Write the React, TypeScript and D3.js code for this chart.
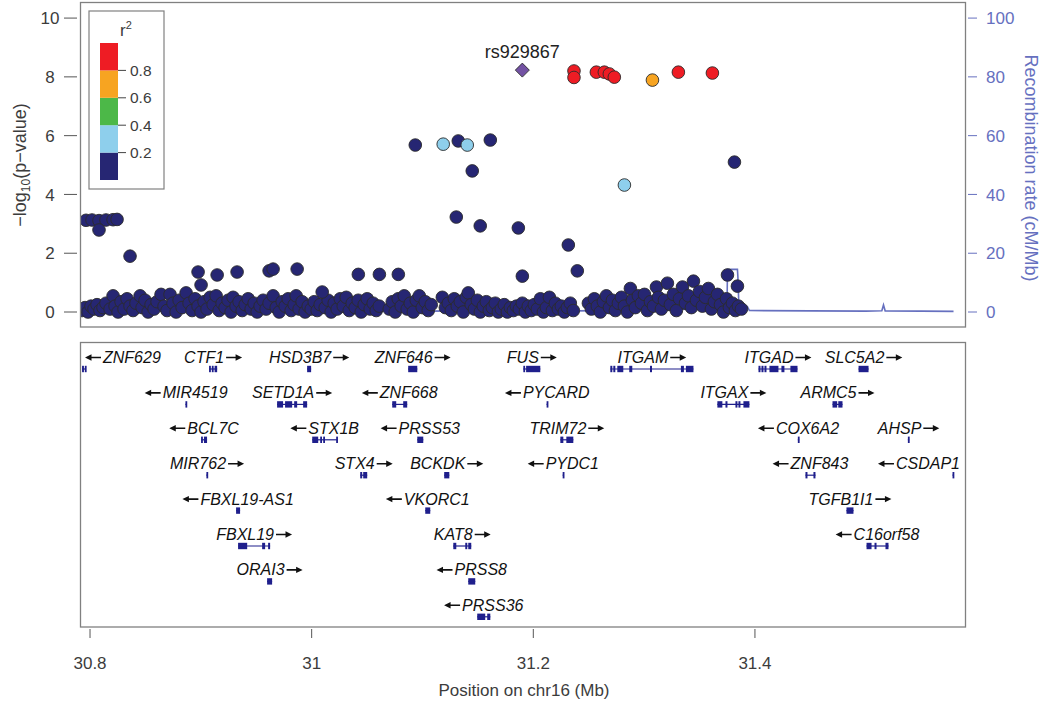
import React, { useMemo } from 'react';
import * as d3 from 'd3';

// ---------- data ----------
const xTicks = [30.8, 31, 31.2, 31.4];
const xTickLabels = ['30.8', '31', '31.2', '31.4'];
const yTicks = [0, 2, 4, 6, 8, 10];
const recTicks = [0, 20, 40, 60, 80, 100];
const ldBreaks = [0.2, 0.4, 0.6, 0.8];
const ldBreakLabels = ['0.2', '0.4', '0.6', '0.8'];
const ldColors = ['#262673', '#8ecfec', '#4cb848', '#f7a421', '#ee1c24'];

const leadSnp = { name: 'rs929867', pos: 31.1901, logp: 8.23 };

const redSnps: [number, number][] = [
  [31.2367, 8.2], [31.2367, 7.98], [31.2569, 8.16], [31.2641, 8.16], [31.2686, 8.1],
  [31.2731, 7.99], [31.3309, 8.16], [31.3616, 8.13],
];
const orangeSnps: [number, number][] = [[31.3075, 7.89]];
const greenSnps: [number, number][] = [];
const lightBlueSnps: [number, number][] = [[31.1187, 5.71], [31.1404, 5.68], [31.2822, 4.32]];

const navyIsolated: [number, number][] = [
  [30.7964, 3.12], [30.8018, 3.13], [30.8081, 3.11], [30.8144, 3.13], [30.8208, 3.14], [30.8244, 3.15],
  [30.8081, 2.79], [30.8361, 1.9], [30.8975, 1.36], [30.9002, 0.92], [30.9147, 1.26], [30.9327, 1.36],
  [30.9616, 1.4], [30.9652, 1.46], [30.9869, 1.46], [31.0095, 0.68], [31.0421, 1.28], [31.0611, 1.28],
  [31.0782, 1.28], [31.0935, 5.68], [31.1323, 5.82], [31.1612, 5.85], [31.1449, 4.8], [31.1305, 3.23],
  [31.1521, 2.93], [31.1865, 2.86], [31.2316, 2.28], [31.2397, 1.4], [31.1901, 1.22], [31.3815, 5.1],
  [31.3752, 1.26], [31.3842, 0.88],
];
const navyBandA: [number, number][] = [
  [30.7928, 0.05], [30.7955, 0.15], [30.7982, 0.0], [30.8009, 0.2], [30.8036, 0.1], [30.8063, 0.25],
  [30.809, 0.05], [30.8117, 0.15], [30.8144, 0.3], [30.8181, 0.1], [30.8208, 0.55], [30.8226, 0.2],
  [30.8253, 0.0], [30.828, 0.35], [30.8307, 0.1], [30.8334, 0.45], [30.8361, 0.2], [30.8388, 0.05],
  [30.8415, 0.3], [30.8452, 0.55], [30.847, 0.15], [30.8497, 0.4], [30.8524, 0.0], [30.8551, 0.25],
  [30.8578, 0.1], [30.8605, 0.35], [30.8641, 0.6], [30.8668, 0.2], [30.8695, 0.05], [30.8722, 0.6],
  [30.8749, 0.3], [30.8777, 0.0], [30.8804, 0.4], [30.8831, 0.15], [30.8867, 0.65], [30.8894, 0.3],
  [30.8921, 0.05], [30.8948, 0.45], [30.8975, 0.2], [30.9002, 0.0], [30.9029, 0.35], [30.9056, 0.1],
  [30.9084, 0.5], [30.9111, 0.25], [30.9138, 0.55], [30.9165, 0.05], [30.9192, 0.3], [30.9219, 0.15],
  [30.9246, 0.4], [30.9273, 0.0], [30.9291, 0.5], [30.9318, 0.2], [30.9345, 0.35], [30.9373, 0.05],
  [30.94, 0.25], [30.9427, 0.45], [30.9454, 0.1], [30.9481, 0.3], [30.9508, 0.0], [30.9535, 0.2],
  [30.9562, 0.4], [30.9589, 0.1], [30.9616, 0.3], [30.9652, 0.55], [30.968, 0.15], [30.9707, 0.0],
  [30.9734, 0.35], [30.9761, 0.2], [30.9788, 0.45], [30.9815, 0.05], [30.9842, 0.25], [30.986, 0.55],
  [30.9887, 0.1], [30.9914, 0.35], [30.9941, 0.0], [30.9969, 0.2],
];
const navyBandB: [number, number][] = [
  [30.9996, 0.1], [31.0023, 0.35], [31.005, 0.05], [31.0077, 0.25], [31.0122, 0.15], [31.0149, 0.4],
  [31.0176, 0.0], [31.0203, 0.3], [31.023, 0.1], [31.0258, 0.45], [31.0285, 0.2], [31.0312, 0.5],
  [31.0339, 0.05], [31.0366, 0.3], [31.0393, 0.15], [31.042, 0.4], [31.0447, 0.0], [31.0474, 0.25],
  [31.0501, 0.45], [31.0528, 0.1], [31.0555, 0.3], [31.0583, 0.05], [31.061, 0.2], [31.07, 0.1],
  [31.0727, 0.35], [31.0754, 0.0], [31.0781, 0.45], [31.0808, 0.2], [31.0835, 0.55], [31.0862, 0.1],
  [31.089, 0.3], [31.0917, 0.0], [31.0944, 0.4], [31.0971, 0.55], [31.0998, 0.15], [31.1025, 0.35],
  [31.1052, 0.05], [31.1079, 0.25], [31.1179, 0.5], [31.1206, 0.15], [31.1233, 0.3], [31.126, 0.05],
  [31.1287, 0.45], [31.1314, 0.2], [31.1341, 0.35], [31.1368, 0.0], [31.1395, 0.5], [31.1413, 0.65],
  [31.144, 0.25], [31.1468, 0.1], [31.1495, 0.4], [31.1522, 0.0], [31.1549, 0.2], [31.1576, 0.35],
  [31.1603, 0.05], [31.163, 0.15], [31.1657, 0.3], [31.1684, 0.0], [31.1711, 0.1], [31.1738, 0.25],
  [31.1766, 0.0], [31.1793, 0.15], [31.182, 0.05], [31.1847, 0.2], [31.1874, 0.1], [31.1901, 0.3],
  [31.1928, 0.0], [31.1955, 0.2], [31.1982, 0.05], [31.2009, 0.25], [31.2036, 0.1], [31.2064, 0.45],
  [31.2091, 0.0], [31.2118, 0.15], [31.2145, 0.5], [31.2172, 0.05], [31.2199, 0.3], [31.2226, 0.1],
  [31.2253, 0.2], [31.228, 0.0], [31.2307, 0.15], [31.2334, 0.3], [31.2361, 0.05],
];
const navyBandC: [number, number][] = [
  [31.2497, 0.3], [31.2524, 0.1], [31.2551, 0.45], [31.2578, 0.2], [31.2605, 0.0], [31.2632, 0.35],
  [31.2659, 0.55], [31.2687, 0.15], [31.2714, 0.4], [31.2741, 0.05], [31.2768, 0.3], [31.2795, 0.5],
  [31.2822, 0.2], [31.2849, 0.0], [31.2876, 0.8], [31.2894, 0.4], [31.2921, 0.15], [31.2948, 0.55],
  [31.2976, 0.3], [31.3003, 0.6], [31.303, 0.05], [31.3057, 0.35], [31.3084, 0.2], [31.3111, 0.85],
  [31.3129, 0.5], [31.3156, 0.1], [31.3183, 0.4], [31.321, 0.98], [31.3237, 0.25], [31.3264, 0.6],
  [31.3291, 0.05], [31.3319, 0.45], [31.3346, 0.85], [31.3373, 0.3], [31.34, 0.55], [31.3427, 0.15],
  [31.3445, 1.05], [31.3472, 0.4], [31.3499, 0.7], [31.3526, 0.2], [31.3553, 0.5], [31.358, 0.8],
  [31.3607, 0.1], [31.3634, 0.35], [31.3662, 0.6], [31.3689, 0.25], [31.3716, 0.0], [31.3743, 0.45],
  [31.377, 0.15], [31.3797, 0.3], [31.3824, 0.05], [31.3851, 0.2], [31.3878, 0.1],
];

const recombRate: [number, number][] = [
  [30.7928, 0.2], [30.85, 0.3], [30.9, 0.2], [30.95, 0.3], [31.0, 0.2], [31.05, 0.3], [31.1, 0.3],
  [31.15, 0.4], [31.2, 0.3], [31.24, 0.4], [31.28, 0.6], [31.32, 0.8], [31.35, 1.0], [31.3748, 1.2],
  [31.3752, 14.5], [31.3842, 14.5], [31.3846, 12], [31.3856, 1.0], [31.39, 0.5], [31.3932, 1.8],
  [31.395, 0.5], [31.45, 0.4], [31.5, 0.3], [31.5145, 0.4], [31.516, 2.4], [31.5175, 0.4],
  [31.55, 0.3], [31.5792, 0.2],
];

type Gene = { name: string; strand: '+' | '-'; row: number; start: number; end: number; exons: [number, number][] };
const genes: Gene[] = [
  { name: 'ZNF629', strand: '-', row: 0, start: 30.7928, end: 30.7964, exons: [[30.7928, 30.7945], [30.7953, 30.7964]] },
  { name: 'CTF1', strand: '+', row: 0, start: 30.9074, end: 30.9147, exons: [[30.9074, 30.9088], [30.9099, 30.911], [30.9124, 30.9147]] },
  { name: 'HSD3B7', strand: '+', row: 0, start: 30.9959, end: 30.9995, exons: [[30.9959, 30.9995]] },
  { name: 'ZNF646', strand: '+', row: 0, start: 31.0871, end: 31.0953, exons: [[31.0871, 31.0953]] },
  { name: 'FUS', strand: '+', row: 0, start: 31.191, end: 31.2063, exons: [[31.191, 31.1925], [31.1935, 31.2063]] },
  { name: 'ITGAM', strand: '+', row: 0, start: 31.2695, end: 31.3445, exons: [[31.2695, 31.2713], [31.2722, 31.274], [31.2758, 31.2812], [31.2866, 31.2893], [31.3053, 31.3071], [31.3332, 31.3359], [31.3377, 31.3445]] },
  { name: 'ITGAD', strand: '+', row: 0, start: 31.4032, end: 31.4384, exons: [[31.4032, 31.405], [31.4059, 31.4077], [31.4086, 31.4104], [31.4131, 31.4212], [31.4239, 31.4266], [31.432, 31.4384]] },
  { name: 'SLC5A2', strand: '+', row: 0, start: 31.4935, end: 31.5025, exons: [[31.4935, 31.5025]] },
  { name: 'MIR4519', strand: '-', row: 1, start: 30.8861, end: 30.8873, exons: [[30.8861, 30.8873]] },
  { name: 'SETD1A', strand: '+', row: 1, start: 30.9688, end: 30.9959, exons: [[30.9688, 30.9742], [30.976, 30.9824], [30.9842, 30.9869], [30.9923, 30.9959]] },
  { name: 'ZNF668', strand: '-', row: 1, start: 31.0727, end: 31.0862, exons: [[31.0727, 31.0763], [31.0826, 31.0862]] },
  { name: 'PYCARD', strand: '-', row: 1, start: 31.212, end: 31.2132, exons: [[31.212, 31.2132]] },
  { name: 'ITGAX', strand: '+', row: 1, start: 31.3661, end: 31.395, exons: [[31.3661, 31.3706], [31.3734, 31.3752], [31.3824, 31.3842], [31.3851, 31.3869], [31.3896, 31.395]] },
  { name: 'ARMC5', strand: '+', row: 1, start: 31.47, end: 31.479, exons: [[31.47, 31.4742], [31.4752, 31.479]] },
  { name: 'BCL7C', strand: '-', row: 2, start: 30.9002, end: 30.9056, exons: [[30.9002, 30.9018], [30.9028, 30.9056]] },
  { name: 'STX1B', strand: '-', row: 2, start: 31.0005, end: 31.023, exons: [[31.0005, 31.0059], [31.0077, 31.0086], [31.0104, 31.0113], [31.0221, 31.023]] },
  { name: 'PRSS53', strand: '-', row: 2, start: 31.0953, end: 31.1007, exons: [[31.0953, 31.1007]] },
  { name: 'TRIM72', strand: '+', row: 2, start: 31.2244, end: 31.2361, exons: [[31.2244, 31.2271], [31.2298, 31.2361]] },
  { name: 'COX6A2', strand: '-', row: 2, start: 31.4387, end: 31.4399, exons: [[31.4387, 31.4399]] },
  { name: 'AHSP', strand: '+', row: 2, start: 31.538, end: 31.5392, exons: [[31.538, 31.5392]] },
  { name: 'MIR762', strand: '+', row: 3, start: 30.905, end: 30.9062, exons: [[30.905, 30.9062]] },
  { name: 'STX4', strand: '+', row: 3, start: 31.0438, end: 31.0501, exons: [[31.0438, 31.0456], [31.0465, 31.0501]] },
  { name: 'BCKDK', strand: '+', row: 3, start: 31.1196, end: 31.1242, exons: [[31.1196, 31.1242]] },
  { name: 'PYDC1', strand: '-', row: 3, start: 31.2265, end: 31.2277, exons: [[31.2265, 31.2277]] },
  { name: 'ZNF843', strand: '-', row: 3, start: 31.4456, end: 31.4546, exons: [[31.4456, 31.4474], [31.4528, 31.4546]] },
  { name: 'CSDAP1', strand: '-', row: 3, start: 31.5783, end: 31.5795, exons: [[31.5783, 31.5795]] },
  { name: 'FBXL19-AS1', strand: '-', row: 4, start: 30.9318, end: 30.9354, exons: [[30.9318, 30.9354]] },
  { name: 'VKORC1', strand: '-', row: 4, start: 31.1025, end: 31.107, exons: [[31.1025, 31.107]] },
  { name: 'TGFB1I1', strand: '+', row: 4, start: 31.4826, end: 31.4889, exons: [[31.4826, 31.4889]] },
  { name: 'FBXL19', strand: '+', row: 5, start: 30.9336, end: 30.9625, exons: [[30.9336, 30.9418], [30.9553, 30.958], [30.9607, 30.9625]] },
  { name: 'KAT8', strand: '+', row: 5, start: 31.1278, end: 31.144, exons: [[31.1278, 31.1305], [31.1386, 31.1404], [31.1413, 31.144]] },
  { name: 'C16orf58', strand: '-', row: 5, start: 31.5007, end: 31.5205, exons: [[31.5007, 31.5052], [31.5079, 31.5097], [31.5178, 31.5205]] },
  { name: 'ORAI3', strand: '+', row: 6, start: 30.9598, end: 30.9643, exons: [[30.9598, 30.9643]] },
  { name: 'PRSS8', strand: '-', row: 6, start: 31.1413, end: 31.1476, exons: [[31.1413, 31.1476]] },
  { name: 'PRSS36', strand: '-', row: 7, start: 31.1494, end: 31.1612, exons: [[31.1494, 31.1566], [31.1584, 31.1612]] },
];

// ---------- layout ----------
const W = 1050;
const H = 705;
const L = 80.5;
const R = 965.5;
const T1 = 2.5;
const B1 = 327;
const T2 = 342.5;
const B2 = 627;
const FONT = '"Liberation Sans", Arial, Helvetica, sans-serif';
const GENE_COLOR = '#1f1f8c';
const REC_COLOR = '#6670bf';
const AXIS_TEXT = '#3c3c3c';
const BORDER = '#808080';
const ARROW_LEN = 16;
const ARROW_GAP = 2;

function measure(text: string, font: string): number {
  try {
    const c = document.createElement('canvas');
    const ctx = c.getContext('2d');
    if (ctx) {
      ctx.font = font;
      return ctx.measureText(text).width;
    }
  } catch (e) {}
  return text.length * 9;
}

function arrowPath(x0: number, yMid: number, dir: 1 | -1): string {
  // shaft from x0 to x0 + dir*ARROW_LEN, filled head at the far end
  const x1 = x0 + dir * ARROW_LEN;
  const hb = x1 - dir * 6.5;
  return `M${x0},${yMid - 0.8}L${hb},${yMid - 0.8}L${hb},${yMid - 3.2}L${x1},${yMid}L${hb},${yMid + 3.2}L${hb},${yMid + 0.8}L${x0},${yMid + 0.8}Z`;
}

export default function App() {
  const x = d3.scaleLinear().domain([30.7914, 31.59]).range([L, R]);
  const y = d3.scaleLinear().domain([-0.51, 10.53]).range([B1, T1]);
  const yRec = d3.scaleLinear().domain([-5.1, 105.3]).range([B1, T1]);
  const ldY = d3.scaleLinear().domain([0, 1]).range([180, 43]);
  const rowY = d3.scaleLinear().domain([0, 1]).range([369, 404.4]);

  const recPath = d3.line<[number, number]>().x((d) => x(d[0])).y((d) => yRec(d[1]))(recombRate) || '';

  const navyAll = [...navyBandA, ...navyBandB, ...navyBandC, ...navyIsolated];
  const groups: { pts: [number, number][]; color: string }[] = [
    { pts: navyAll, color: ldColors[0] },
    { pts: lightBlueSnps, color: ldColors[1] },
    { pts: greenSnps, color: ldColors[2] },
    { pts: orangeSnps, color: ldColors[3] },
    { pts: redSnps, color: ldColors[4] },
  ];

  const geneLabels = useMemo(() => {
    const font = `italic 16px ${FONT}`;
    return genes.map((g) => {
      const tw = measure(g.name, font);
      const total = tw + ARROW_GAP + ARROW_LEN;
      const c = (x(g.start) + x(g.end)) / 2;
      const cx = Math.max(L + 4.5 + total / 2, Math.min(R - 5.5 - total / 2, c));
      const left = cx - total / 2;
      if (g.strand === '+') {
        return { textX: left, arrowX: left + tw + ARROW_GAP, dir: 1 as const };
      }
      return { textX: left + ARROW_LEN + ARROW_GAP, arrowX: left + ARROW_LEN, dir: -1 as const };
    });
  }, []);

  const lx = x(leadSnp.pos);
  const ly = y(leadSnp.logp);
  const dR = 7;

  const ldEdges = [0, ...ldBreaks, 1];

  return (
    <svg width={W} height={H} style={{ position: 'absolute', left: 0, top: 0, background: '#fff' }} fontFamily={FONT}>
      <rect x={0} y={0} width={W} height={H} fill="#fff" />
      <defs>
        <clipPath id="clipTop">
          <rect x={L} y={T1} width={R - L} height={B1 - T1} />
        </clipPath>
      </defs>
      {/* top panel */}
      <g clipPath="url(#clipTop)">
        <path d={recPath} fill="none" stroke={REC_COLOR} strokeWidth={1.6} />
        {groups.map((g, gi) => (
          <g key={gi}>
            {g.pts.map((p, i) => (
              <circle key={i} cx={x(p[0])} cy={y(p[1])} r={6.3} fill={g.color} stroke="#2b2b2b" strokeWidth={0.9} />
            ))}
          </g>
        ))}
        <path
          d={`M${lx},${ly - dR}L${lx + dR},${ly}L${lx},${ly + dR}L${lx - dR},${ly}Z`}
          fill="#7352a3"
          stroke="#2b2b2b"
          strokeWidth={0.9}
        />
      </g>
      <text x={lx} y={ly - 12} textAnchor="middle" fontSize={18} fill="#222">{leadSnp.name}</text>
      <rect x={L} y={T1} width={R - L} height={B1 - T1} fill="none" stroke={BORDER} strokeWidth={1.3} />

      {/* left axis */}
      {yTicks.map((t) => (
        <g key={t}>
          <line x1={64} x2={77} y1={y(t)} y2={y(t)} stroke="#555" strokeWidth={1} />
          <text x={50} y={y(t)} dy="0.36em" textAnchor="middle" fontSize={17} fill={AXIS_TEXT}>{t}</text>
        </g>
      ))}
      <text transform={`translate(26,165) rotate(-90)`} textAnchor="middle" fontSize={18} fill={AXIS_TEXT}>
        {'\u2212log'}
        <tspan fontSize={12} dy={4}>10</tspan>
        <tspan dy={-4}>{'(p\u2212value)'}</tspan>
      </text>

      {/* right axis */}
      {recTicks.map((t) => (
        <g key={t}>
          <line x1={968} x2={977} y1={yRec(t)} y2={yRec(t)} stroke={REC_COLOR} strokeWidth={1} />
          <text x={986} y={yRec(t)} dy="0.36em" textAnchor="start" fontSize={17} fill={REC_COLOR}>{t}</text>
        </g>
      ))}
      <text transform={`translate(1025,168) rotate(90)`} textAnchor="middle" fontSize={18} fill={REC_COLOR}>
        Recombination rate (cM/Mb)
      </text>

      {/* legend */}
      <rect x={89} y={11} width={75} height={178} fill="#fff" stroke={BORDER} strokeWidth={1.2} />
      {ldColors.map((c, i) => (
        <rect key={i} x={100} y={ldY(ldEdges[i + 1])} width={18} height={ldY(ldEdges[i]) - ldY(ldEdges[i + 1])} fill={c} />
      ))}
      {ldBreaks.map((b, i) => (
        <g key={b}>
          <line x1={118} x2={126} y1={ldY(b)} y2={ldY(b)} stroke="#444" strokeWidth={1} />
          <text x={130} y={ldY(b)} dy="0.36em" fontSize={15.5} fill={AXIS_TEXT}>{ldBreakLabels[i]}</text>
        </g>
      ))}
      <text x={120} y={36} fontSize={17} fill={AXIS_TEXT}>
        r<tspan fontSize={11} dy={-7}>2</tspan>
      </text>

      {/* gene panel */}
      <rect x={L} y={T2} width={R - L} height={B2 - T2} fill="none" stroke={BORDER} strokeWidth={1.3} />
      {genes.map((g, i) => {
        const by = rowY(g.row);
        const gl = geneLabels[i];
        const ty = by - 6;
        return (
          <g key={g.name}>
            <line x1={x(g.start)} x2={x(g.end)} y1={by} y2={by} stroke={GENE_COLOR} strokeWidth={1.2} />
            {g.exons.map((e, j) => {
              const x0 = x(e[0]);
              const w = Math.max(1.8, x(e[1]) - x0);
              return <rect key={j} x={x0} y={by - 3.2} width={w} height={6.4} fill={GENE_COLOR} />;
            })}
            <text x={gl.textX} y={ty} textAnchor="start" fontSize={16} fontStyle="italic" fill="#111">{g.name}</text>
            <path d={arrowPath(gl.arrowX, ty - 5.5, gl.dir)} fill="#111" />
          </g>
        );
      })}

      {/* bottom axis */}
      {xTicks.map((t, i) => (
        <g key={t}>
          <line x1={x(t)} x2={x(t)} y1={629} y2={638} stroke="#555" strokeWidth={1} />
          <text x={x(t)} y={669} textAnchor="middle" fontSize={17} fill={AXIS_TEXT}>{xTickLabels[i]}</text>
        </g>
      ))}
      <text x={(L + R) / 2 + 1} y={696} textAnchor="middle" fontSize={17} fill={AXIS_TEXT}>Position on chr16 (Mb)</text>
    </svg>
  );
}
